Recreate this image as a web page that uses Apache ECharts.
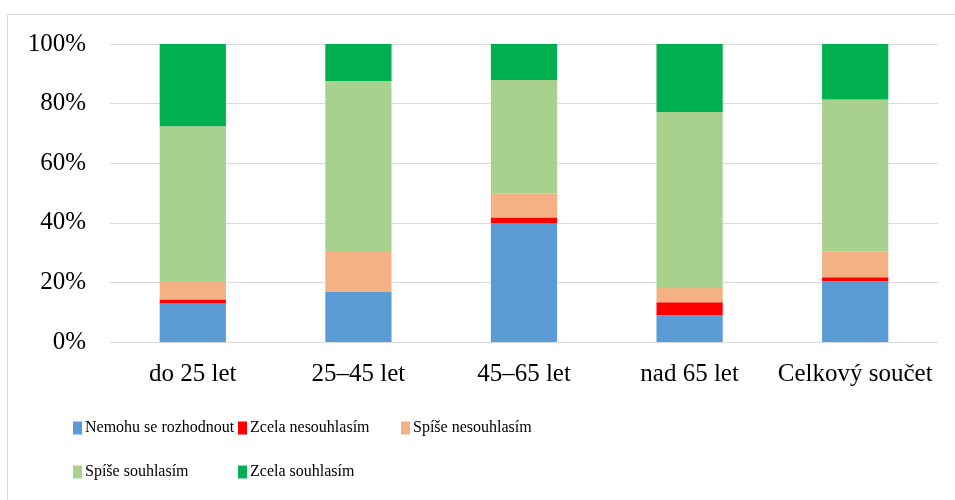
<!DOCTYPE html>
<html>
<head>
<meta charset="utf-8">
<script src="https://cdn.jsdelivr.net/npm/echarts@6/dist/echarts.min.js"></script>
<style>
    html, body { margin: 0; padding: 0; background: #fff; }
    #chart { width: 955px; height: 500px; }
</style>
</head>
<body>
<div id="chart"></div>
<script>
    // kategorie a hodnoty (v %)
    var categories = ['do 25 let', '25–45 let', '45–65 let', 'nad 65 let', 'Celkový součet'];
    var nemohu = [12.9, 16.8, 39.9, 9.0, 20.4];
    var zcelaNe = [1.4, 0, 1.9, 4.3, 1.3];
    var spiseNe = [5.8, 13.7, 8.0, 4.8, 8.7];
    var spiseAno = [52.3, 57.1, 38.1, 59.1, 51.0];
    var zcelaAno = [27.6, 12.4, 12.1, 22.8, 18.6];
    var yTicks = [0, 20, 40, 60, 80, 100];

    var names = ['Nemohu se rozhodnout', 'Zcela nesouhlasím', 'Spíše nesouhlasím', 'Spíše souhlasím', 'Zcela souhlasím'];
    var colors = ['#5B9BD5', '#FF0000', '#F4B183', '#A9D18E', '#00B050'];
    var values = [nemohu, zcelaNe, spiseNe, spiseAno, zcelaAno];
    var font = '"Liberation Serif", "Times New Roman", serif';

    // pozice legend (Excel je rovna do sloupcu)
    var legendPos = [[73, 420], [238, 420], [401, 420], [73, 464], [238, 464]];

    var legends = names.map(function (n, i) {
        return {
            data: [n],
            left: legendPos[i][0],
            top: legendPos[i][1],
            padding: 0,
            itemWidth: 9,
            itemHeight: 13,
            icon: 'rect',
            selectedMode: false,
            textStyle: { fontFamily: font, fontSize: 16, color: '#000', padding: [0, 0, 0, -2] }
        };
    });

    var option = {
        animation: false,
        color: colors,
        graphic: [
            { type: 'line', shape: { x1: 7.5, y1: 14.5, x2: 955, y2: 14.5 }, style: { stroke: '#d9d9d9', lineWidth: 1 } },
            { type: 'line', shape: { x1: 7.5, y1: 14.5, x2: 7.5, y2: 500 }, style: { stroke: '#d9d9d9', lineWidth: 1 } }
        ],
        legend: legends,
        grid: {
            left: 110,
            right: 17,
            top: 44,
            bottom: 158
        },
        xAxis: {
            type: 'category',
            data: categories,
            axisTick: { show: false },
            axisLine: { lineStyle: { color: '#d9d9d9' } },
            axisLabel: { fontFamily: font, fontSize: 25, color: '#000', margin: 20, interval: 0 }
        },
        yAxis: {
            type: 'value',
            min: yTicks[0],
            max: yTicks[yTicks.length - 1],
            interval: 20,
            axisLine: { show: false },
            axisTick: { show: false },
            splitLine: { lineStyle: { color: '#d9d9d9', width: 1 } },
            axisLabel: { fontFamily: font, fontSize: 25, color: '#000', margin: 24, formatter: '{value}%' }
        },
        series: names.map(function (n, i) {
            return {
                name: n,
                type: 'bar',
                stack: 'total',
                barWidth: '40%',
                data: values[i]
            };
        })
    };

    echarts.init(document.getElementById('chart')).setOption(option);
</script>
</body>
</html>
